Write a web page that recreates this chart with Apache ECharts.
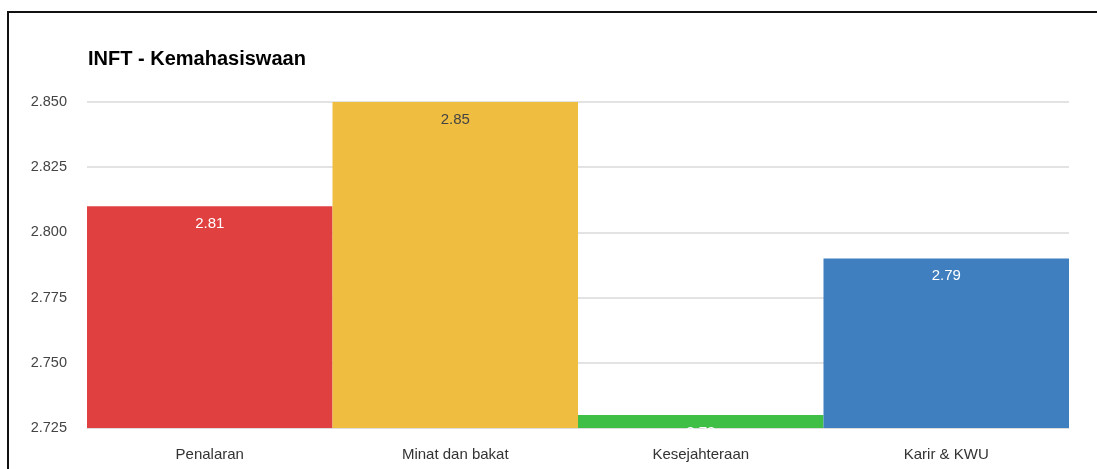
<!DOCTYPE html>
<html><head><meta charset="utf-8">
<script src="https://cdn.jsdelivr.net/npm/echarts@6/dist/echarts.min.js"></script>
<style>html,body{margin:0;padding:0;background:#fff;}#frame{position:absolute;left:7px;top:11px;width:1200px;height:600px;border-top:2px solid #111;border-left:2px solid #111;}#c{position:absolute;left:0;top:0;width:1097px;height:469px;}</style>
</head><body>
<div id="frame"></div>
<div id="c"></div>
<script>
const title = 'INFT - Kemahasiswaan';
const categories = ['Penalaran', 'Minat dan bakat', 'Kesejahteraan', 'Karir & KWU'];
const values = [2.81, 2.85, 2.73, 2.79];
const barColors = ['#E04040', '#EFBE40', '#3FBF45', '#3F7FC0'];
const labelColors = ['#ffffff', '#444444', '#ffffff', '#ffffff'];
const yMin = 2.725, yMax = 2.85, yStep = 0.025;

const chart = echarts.init(document.getElementById('c'), null, {renderer: 'canvas'});
chart.setOption({
  backgroundColor: 'transparent',
  animation: false,
  title: {text: title, left: 83, top: 44, textStyle: {fontFamily: 'Liberation Sans, Arial', fontSize: 20, fontWeight: 'bold', color: '#000'}},
  grid: {left: 87, right: 28, top: 102, bottom: 41},
  xAxis: {
    type: 'category', data: categories,
    axisTick: {show: false},
    axisLine: {show: true, lineStyle: {color: '#dddddd', width: 1}},
    axisLabel: {color: '#333', fontSize: 15, fontFamily: 'Liberation Sans, Arial', margin: 19}
  },
  yAxis: {
    type: 'value', min: yMin, max: yMax, interval: yStep,
    axisLine: {show: false}, axisTick: {show: false},
    splitLine: {lineStyle: {color: '#e3e3e3', width: 2}},
    axisLabel: {color: '#444', fontSize: 14.5, fontFamily: 'Liberation Sans, Arial', margin: 20,
      formatter: v => v.toFixed(3)}
  },
  series: [{
    type: 'bar', barWidth: '100%', barCategoryGap: '0%',
    data: values.map((v, i) => ({value: v, itemStyle: {color: barColors[i]},
      label: {color: labelColors[i]}})),
    label: {show: true, position: 'insideTop', distance: 10, fontSize: 15,
      fontFamily: 'Liberation Sans, Arial', formatter: p => p.value.toFixed(2)}
  }],
  graphic: [{type: 'rect', z: 100, shape: {x: 87, y: 429, width: 982, height: 12}, style: {fill: '#fff'}}]
});
</script>
</body></html>
